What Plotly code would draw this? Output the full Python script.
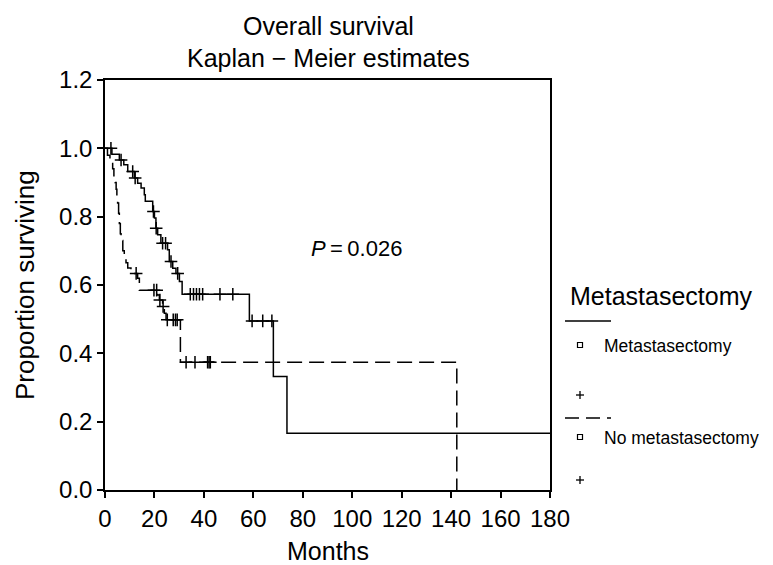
import numpy as np
import plotly.graph_objects as go

# ---------------- data ----------------
# Metastasectomy group (solid line): step times (months) and survival after each step
met_times = [0, 2.8, 5.8, 7.6, 9.2, 11.9, 13.2, 14.6, 15.9, 16.3, 19.3, 20.0, 20.6,
             21.3, 22.6, 25.3, 26.0, 27.4, 28.7, 30.1, 31.2, 58.4, 68.1, 73.6, 180]
met_surv = [1.0, 0.983, 0.966, 0.952, 0.932, 0.913, 0.898, 0.884, 0.864, 0.845, 0.815,
            0.796, 0.766, 0.747, 0.722, 0.703, 0.669, 0.649, 0.634, 0.61, 0.573, 0.495,
            0.332, 0.166, 0.166]
met_censor = [2.4, 6.5, 11.2, 12.2, 19.6, 20.7, 23.3, 24.5, 26.7, 29.4, 34.5, 35.8,
              37.0, 38.2, 39.5, 46.5, 51.7, 59.5, 63.8, 67.5]

# No metastasectomy group (dashed line)
nomet_times = [0, 1.0, 2.0, 3.1, 3.6, 4.0, 4.5, 4.8, 5.1, 5.5, 5.8, 6.2, 6.5, 7.2, 7.8,
               8.5, 9.2, 10.5, 13.2, 13.9, 21.3, 22.0, 23.3, 24.0, 24.7, 30.5, 142.3]
nomet_surv = [1.0, 0.98, 0.96, 0.94, 0.92, 0.90, 0.88, 0.86, 0.84, 0.81, 0.78, 0.75,
              0.73, 0.70, 0.68, 0.665, 0.65, 0.634, 0.62, 0.585, 0.571, 0.556, 0.537,
              0.517, 0.498, 0.374, 0.0]
nomet_censor = [12.6, 19.8, 20.9, 22.2, 23.5, 25.2, 27.6, 28.5, 29.2, 32.8, 36.4,
                41.5, 42.1, 42.6]

x_ticks = [0, 20, 40, 60, 80, 100, 120, 140, 160, 180]
y_ticks = [0.0, 0.2, 0.4, 0.6, 0.8, 1.0, 1.2]

title_lines = ["Overall survival", "Kaplan \u2212 Meier estimates"]
x_title = "Months"
y_title = "Proportion surviving"
legend_title = "Metastasectomy"
group_names = ["Metastasectomy", "No metastasectomy"]
p_text = "<i>P</i>\u2009=\u20090.026"

# ---------------- layout geometry ----------------
W, H = 773, 565
L, R, T, B = 97, 231, 72, 83
PW = W - L - R
PH = H - T - B
FONT = "Liberation Sans, Arial, Helvetica, sans-serif"


def px_x(p):
    return (p - L) / PW


def px_y(p):
    return (H - B - p) / PH


def censor_y(times, surv, cens):
    t = np.asarray(times)
    s = np.asarray(surv)
    idx = np.searchsorted(t, np.asarray(cens), side="right") - 1
    return s[idx]


fig = go.Figure()

fig.add_trace(go.Scatter(x=met_times, y=met_surv, mode="lines", line_shape="hv",
                         line=dict(color="black", width=1.5), showlegend=False,
                         hoverinfo="skip"))
fig.add_trace(go.Scatter(x=nomet_times, y=nomet_surv, mode="lines", line_shape="hv",
                         line=dict(color="black", width=1.5, dash="15px,7px"),
                         showlegend=False, hoverinfo="skip"))
fig.add_trace(go.Scatter(x=met_censor, y=censor_y(met_times, met_surv, met_censor),
                         mode="markers",
                         marker=dict(symbol="cross-thin", size=9,
                                     line=dict(color="black", width=1.5)),
                         showlegend=False, hoverinfo="skip"))
fig.add_trace(go.Scatter(x=nomet_censor, y=censor_y(nomet_times, nomet_surv, nomet_censor),
                         mode="markers",
                         marker=dict(symbol="cross-thin", size=9,
                                     line=dict(color="black", width=1.5)),
                         showlegend=False, hoverinfo="skip"))

axis_common = dict(showgrid=False, zeroline=False, showline=True, linecolor="black",
                   linewidth=1.5, mirror=True, ticks="outside", ticklen=6,
                   tickwidth=1.5, tickcolor="black",
                   tickfont=dict(family=FONT, size=24, color="black"))

fig.update_xaxes(range=[0, 180], tickvals=x_ticks, ticktext=[str(v) for v in x_ticks],
                 **axis_common)
fig.update_yaxes(range=[0, 1.2], tickvals=y_ticks, ticktext=[f"{v:.1f}" for v in y_ticks],
                 **axis_common)

annotations = [
    dict(text=title_lines[0], x=px_x(320), y=px_y(18), font=dict(size=25)),
    dict(text=title_lines[1], x=px_x(320), y=px_y(50), font=dict(size=25)),
    dict(text=x_title, x=px_x(320), y=px_y(543), font=dict(size=25)),
    dict(text=y_title, x=px_x(17), y=px_y(277), font=dict(size=26), textangle=-90),
    dict(text=p_text, x=px_x(348), y=px_y(240), font=dict(size=22)),
    dict(text=legend_title, x=px_x(560), y=px_y(288), font=dict(size=25), xanchor="left"),
    dict(text=group_names[0], x=px_x(594), y=px_y(338), font=dict(size=17.5), xanchor="left"),
    dict(text=group_names[1], x=px_x(594), y=px_y(430), font=dict(size=17.5), xanchor="left"),
]
for a in annotations:
    a.setdefault("xanchor", "center")
    a.update(xref="paper", yref="paper", yanchor="middle", showarrow=False)
    a["font"].update(family=FONT, color="black")

shapes = []
ln = dict(color="black", width=1.5)
# legend line samples
shapes.append(dict(type="line", x0=px_x(557), x1=px_x(603), y0=px_y(313), y1=px_y(313), line=ln))
shapes.append(dict(type="line", x0=px_x(557), x1=px_x(603), y0=px_y(410), y1=px_y(410),
                   line=dict(color="black", width=1.5, dash="14px,7px")))
# legend squares and plus signs
for cy in (337, 429):
    shapes.append(dict(type="rect", x0=px_x(569.5), x1=px_x(574.5), y0=px_y(cy + 2.5),
                       y1=px_y(cy - 2.5), line=dict(color="black", width=1.2)))
for cy in (387, 472):
    shapes.append(dict(type="line", x0=px_x(568), x1=px_x(576), y0=px_y(cy), y1=px_y(cy),
                       line=dict(color="black", width=1.3)))
    shapes.append(dict(type="line", x0=px_x(572), x1=px_x(572), y0=px_y(cy - 4),
                       y1=px_y(cy + 4), line=dict(color="black", width=1.3)))
for s in shapes:
    s.update(xref="paper", yref="paper")

fig.update_layout(width=W, height=H, margin=dict(l=L, r=R, t=T, b=B, autoexpand=False),
                  paper_bgcolor="white", plot_bgcolor="white",
                  font=dict(family=FONT, color="black"),
                  annotations=annotations, shapes=shapes, showlegend=False)

fig.write_html("out.html")
